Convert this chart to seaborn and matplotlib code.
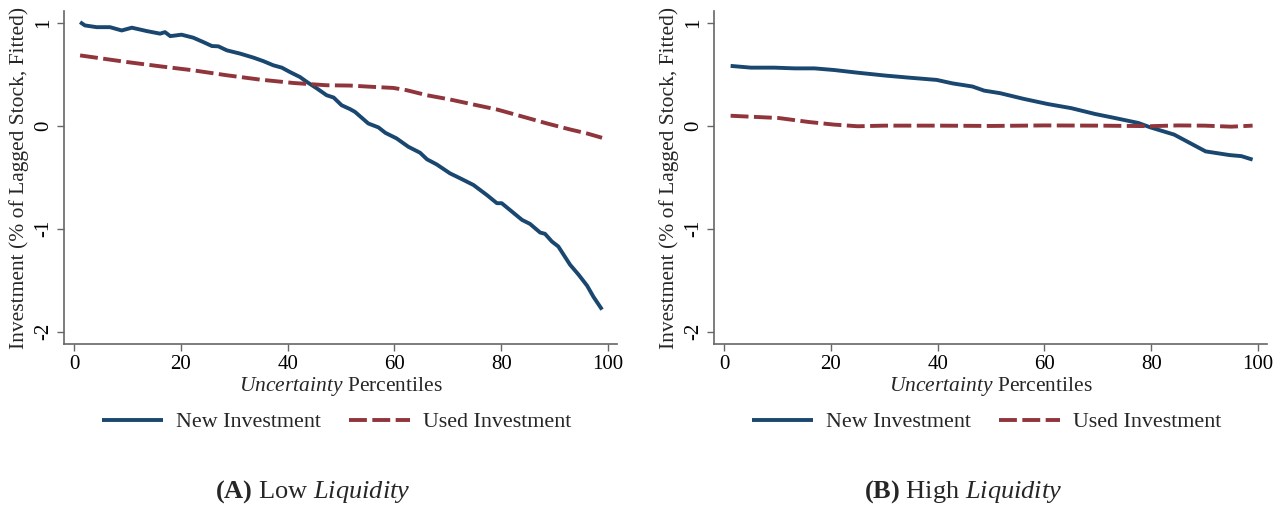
import numpy as np
import pandas as pd
import matplotlib
matplotlib.use("Agg")
import matplotlib.pyplot as plt
import seaborn as sns

# ---------------- data ----------------
pct_low_new = [1.1, 2.0, 4.2, 6.7, 8.9, 10.8, 13.6, 16.1, 17.0, 18.0, 20.1, 22.3, 24.2, 25.8,
               27.0, 28.6, 31.1, 33.6, 35.4, 37.3, 38.9, 40.4, 42.3, 43.6, 45.5, 47.3, 48.6,
               50.1, 51.7, 52.6, 55.1, 57.0, 58.3, 60.4, 62.6, 64.8, 66.1, 67.9, 70.4, 72.3,
               74.8, 77.3, 79.2, 80.1, 82.0, 83.9, 85.4, 87.3, 88.2, 89.5, 90.7, 92.9, 94.5,
               96.1, 97.3, 98.9]
new_low = [1.005, 0.973, 0.956, 0.956, 0.924, 0.951, 0.918, 0.893, 0.908, 0.869, 0.883, 0.854,
           0.811, 0.773, 0.770, 0.731, 0.699, 0.660, 0.627, 0.586, 0.563, 0.521, 0.472, 0.424,
           0.360, 0.295, 0.273, 0.198, 0.160, 0.134, 0.021, -0.017, -0.070, -0.124, -0.205,
           -0.263, -0.327, -0.376, -0.463, -0.511, -0.576, -0.673, -0.753, -0.753, -0.834,
           -0.915, -0.954, -1.038, -1.050, -1.125, -1.173, -1.350, -1.447, -1.554, -1.663,
           -1.786]

pct_low_used = [1.1, 9.8, 16.1, 22.3, 28.6, 34.8, 41.1, 47.3, 51.7, 56.1, 59.8, 62.3, 66.1,
                70.4, 74.8, 79.2, 84.2, 88.6, 92.9, 96.1, 98.9]
used_low = [0.682, 0.618, 0.576, 0.537, 0.489, 0.447, 0.414, 0.392, 0.389, 0.376, 0.366, 0.344,
            0.295, 0.254, 0.205, 0.157, 0.085, 0.021, -0.037, -0.076, -0.118]

pct_high_new = [1.2, 5.0, 9.4, 13.2, 16.9, 20.6, 25.0, 30.2, 34.6, 39.8, 42.8, 46.5, 48.7,
                51.7, 56.1, 60.6, 65.0, 69.5, 73.2, 77.6, 79.8, 84.3, 90.2, 94.7, 96.9, 99.0]
new_high = [0.58, 0.563, 0.563, 0.556, 0.556, 0.54, 0.514, 0.486, 0.466, 0.444, 0.41, 0.38,
            0.34, 0.315, 0.26, 0.21, 0.17, 0.113, 0.074, 0.026, -0.016, -0.087, -0.25, -0.286,
            -0.296, -0.33]

pct_high_used = [1.2, 10.2, 15.9, 20.6, 25.0, 30.0, 40.0, 50.0, 60.0, 70.0, 80.0, 85.0, 90.0,
                 95.0, 99.0]
used_high = [0.096, 0.074, 0.035, 0.010, -0.006, 0.0, 0.0, -0.003, 0.002, 0.0, -0.005, 0.002,
             0.0, -0.01, 0.0]

x_ticks = [0, 20, 40, 60, 80, 100]
y_ticks = [-2, -1, 0, 1]
series_labels = ["New Investment", "Used Investment"]
panel_titles = [r"$\mathbf{(A)}$ Low $\mathit{Liquidity}$",
                r"$\mathbf{(B)}$ High $\mathit{Liquidity}$"]
x_label = r"$\mathit{Uncertainty}$ Percentiles"
y_label = "Investment (% of Lagged Stock, Fitted)"

# ---------------- style ----------------
sns.set_theme(style="white")
plt.rcParams["font.family"] = ["Liberation Serif", "DejaVu Serif"]
plt.rcParams["mathtext.fontset"] = "custom"
plt.rcParams["mathtext.rm"] = "Liberation Serif"
plt.rcParams["mathtext.it"] = "Liberation Serif:italic"
plt.rcParams["mathtext.bf"] = "Liberation Serif:bold"

NAVY = "#1A476F"
MAROON = "#90353B"
SPINE = "#666666"
FS = 15

fig = plt.figure(figsize=(12.85, 5.08), dpi=100)
W, H = 1285, 508
ax_top, ax_bot = 11, 344
panels = [
    (64.4, 617, pct_low_new, new_low, pct_low_used, used_low),
    (714.4, 1267, pct_high_new, new_high, pct_high_used, used_high),
]

for i, (l, r, pn, vn, pu, vu) in enumerate(panels):
    ax = fig.add_axes([l / W, 1 - ax_bot / H, (r - l) / W, (ax_bot - ax_top) / H])
    sns.lineplot(x=pn, y=vn, ax=ax, color=NAVY, linewidth=2.8, label=series_labels[0],
                 solid_capstyle="butt")
    sns.lineplot(x=pu, y=vu, ax=ax, color=MAROON, linewidth=2.8, label=series_labels[1])
    ax.lines[-1].set_dashes((4.6, 1.4))
    ax.lines[-1].set_dash_capstyle("butt")

    ax.set_xlim(-1.84, 101.7)
    ax.set_ylim(-2.12, 1.113)
    ax.set_xticks(x_ticks)
    ax.set_yticks(y_ticks)
    ax.set_xticklabels([str(t) for t in x_ticks], fontsize=FS)
    ax.set_yticklabels([str(t) for t in y_ticks], fontsize=FS, rotation=90, va="center")
    ax.tick_params(axis="both", direction="out", length=5, width=1.0, color=SPINE,
                   labelcolor="black", pad=3, bottom=True, left=True)
    for s in ["top", "right"]:
        ax.spines[s].set_visible(False)
    for s in ["left", "bottom"]:
        ax.spines[s].set_color(SPINE)
        ax.spines[s].set_linewidth(1.2)
    ax.set_xlabel(x_label, fontsize=15.5, labelpad=1)
    ax.set_ylabel(y_label, fontsize=15.5, labelpad=4)
    ax.grid(False)

    leg = ax.legend(loc="center", bbox_to_anchor=(0.493, -0.235), ncol=2, frameon=False,
                    prop={"size": 15.8}, handlelength=2.75, columnspacing=1.3,
                    handletextpad=0.6)
    cx = ((l - 55) + r) / 2 / W
    fig.text(cx, 1 - 492 / H, panel_titles[i], fontsize=19, ha="center", va="center")

fig.savefig("out.png", dpi=100, facecolor="white")
